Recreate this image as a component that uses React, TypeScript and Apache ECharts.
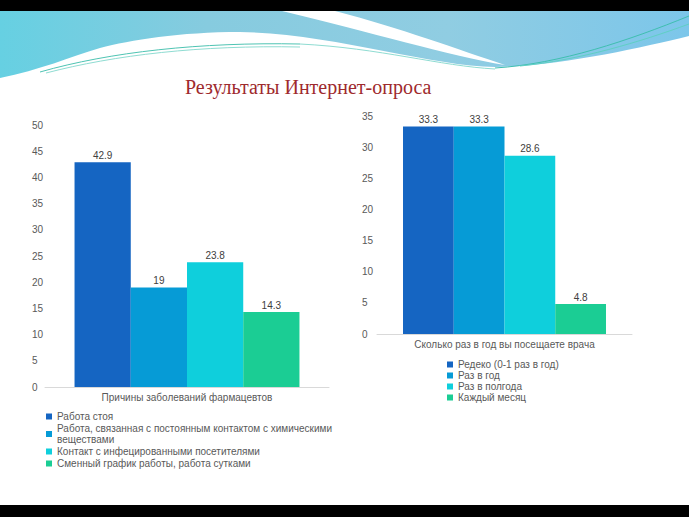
import React, { useEffect, useRef } from "react";
import * as echarts from "echarts";

const leftCategory = ["Причины заболеваний фармацевтов"];
const leftNames = [
  "Работа стоя",
  "Работа, связанная с постоянным контактом с химическими веществами",
  "Контакт с инфецированными посетителями",
  "Сменный график работы, работа сутками",
];
const leftValues = [42.9, 19, 23.8, 14.3];

const rightCategory = ["Сколько раз в год вы посещаете врача"];
const rightNames = ["Редеко (0-1 раз в год)", "Раз в год", "Раз в полгода", "Каждый месяц"];
const rightValues = [33.3, 33.3, 28.6, 4.8];

const colors = ["#1565c2", "#069bd6", "#0fcfdc", "#1bcd94"];

const FONT = "Liberation Sans, Arial, sans-serif";

echarts.graphic.registerShape(
  "waveBlue",
  echarts.graphic.extendPath(
    "M0,11 L689,11 L689,36 C640,48 560,66 495,67 C430,66 330,33 240,32 C180,32 130,40 100,48 C70,57 40,70 0,78 Z",
    {}
  )
);
echarts.graphic.registerShape(
  "waveStreak",
  echarts.graphic.extendPath(
    "M282,11 L335,11 C400,28 460,50 505,65 C450,56 370,32 282,11 Z",
    {}
  )
);

export default function App() {
  const ref = useRef<HTMLDivElement>(null);
  useEffect(() => {
    if (!ref.current) return;
    const chart = echarts.init(ref.current, null, { renderer: "svg" });
    const labelStyle = {
      show: true,
      position: "top",
      distance: 2,
      fontSize: 10,
      color: "#404040",
      fontFamily: FONT,
    };
    const series: any[] = [];
    leftNames.forEach((n, i) => {
      series.push({
        type: "bar",
        name: n,
        xAxisIndex: 0,
        yAxisIndex: 0,
        data: [leftValues[i]],
        barGap: "0%",
        barCategoryGap: "20.8%",
        itemStyle: { color: colors[i] },
        label: labelStyle,
      });
    });
    rightNames.forEach((n, i) => {
      series.push({
        type: "bar",
        name: n,
        xAxisIndex: 1,
        yAxisIndex: 1,
        data: [rightValues[i]],
        barGap: "0%",
        barCategoryGap: "20.4%",
        itemStyle: { color: colors[i] },
        label: labelStyle,
      });
    });
    const xAxisBase = {
      type: "category",
      axisLine: { lineStyle: { color: "#d9d9d9" } },
      axisTick: { show: false },
      axisLabel: { fontSize: 10, color: "#595959", margin: 5, fontFamily: FONT },
    };
    const yAxisBase = {
      type: "value",
      min: 0,
      interval: 5,
      axisLine: { show: false },
      axisTick: { show: false },
      splitLine: { show: false },
    };
    const legendBase = {
      orient: "vertical",
      icon: "rect",
      itemWidth: 6,
      itemHeight: 6,
      textStyle: { fontSize: 10, lineHeight: 11, color: "#595959", fontFamily: FONT },
    };
    chart.setOption({
      animation: false,
      backgroundColor: "#ffffff",
      title: {
        text: "Результаты Интернет-опроса",
        left: 180,
        top: 72,
        textStyle: {
          color: "#9e2a2d",
          fontSize: 20,
          fontWeight: "normal",
          fontFamily: "Liberation Serif, serif",
        },
      },
      graphic: [
        { type: "rect", shape: { x: 0, y: 0, width: 689, height: 11 }, style: { fill: "#000" }, silent: true },
        { type: "rect", shape: { x: 0, y: 505, width: 689, height: 12 }, style: { fill: "#000" }, silent: true },
        {
          type: "waveBlue",
          x: 0,
          y: 0,
          style: {
            fill: new echarts.graphic.LinearGradient(0, 0, 1, 0, [
              { offset: 0, color: "#66d0e2" },
              { offset: 0.3, color: "#86cbdf" },
              { offset: 0.65, color: "#90cde2" },
              { offset: 1, color: "#7cc6ea" },
            ]),
          },
          silent: true,
        },
        { type: "waveStreak", x: 0, y: 0, style: { fill: "#ffffff" }, silent: true },
        {
          type: "bezierCurve",
          shape: { x1: 40, y1: 72, x2: 300, y2: 44, cpx1: 110, cpy1: 52, cpx2: 200, cpy2: 42 },
          style: { stroke: "#4fc4b3", lineWidth: 1, fill: null },
          silent: true,
        },
        {
          type: "bezierCurve",
          shape: { x1: 46, y1: 73, x2: 300, y2: 47, cpx1: 115, cpy1: 55, cpx2: 200, cpy2: 45 },
          style: { stroke: "#8fdcd2", lineWidth: 1, fill: null },
          silent: true,
        },
        {
          type: "bezierCurve",
          shape: { x1: 300, y1: 44, x2: 495, y2: 69, cpx1: 380, cpy1: 48, cpx2: 440, cpy2: 66 },
          style: { stroke: "#8fdcd2", lineWidth: 1, fill: null },
          silent: true,
        },
        {
          type: "bezierCurve",
          shape: { x1: 495, y1: 68, x2: 689, y2: 16, cpx1: 560, cpy1: 64, cpx2: 630, cpy2: 40 },
          style: { stroke: "#3fbfb0", lineWidth: 1, fill: null },
          silent: true,
        },
        {
          type: "bezierCurve",
          shape: { x1: 520, y1: 66, x2: 689, y2: 24, cpx1: 580, cpy1: 60, cpx2: 640, cpy2: 42 },
          style: { stroke: "#5fd0c4", lineWidth: 1, fill: null },
          silent: true,
        },
      ],
      grid: [
        { left: 45, top: 125, width: 284, height: 262 },
        { left: 377, top: 116, width: 255, height: 218 },
      ],
      xAxis: [
        { ...xAxisBase, gridIndex: 0, data: leftCategory },
        { ...xAxisBase, gridIndex: 1, data: rightCategory },
      ],
      yAxis: [
        {
          ...yAxisBase,
          gridIndex: 0,
          max: 50,
          axisLabel: { align: "left", margin: 13, fontSize: 10, color: "#595959", fontFamily: FONT },
        },
        {
          ...yAxisBase,
          gridIndex: 1,
          max: 35,
          axisLabel: { align: "left", margin: 15, fontSize: 10, color: "#595959", fontFamily: FONT },
        },
      ],
      legend: [
        {
          ...legendBase,
          data: leftNames,
          left: 41,
          top: 406,
          itemGap: 1,
          formatter: (name: string) =>
            name === leftNames[1]
              ? "Работа, связанная с постоянным контактом с химическими\nвеществами"
              : name,
        },
        {
          ...legendBase,
          data: rightNames,
          left: 442,
          top: 354,
          itemGap: 0,
        },
      ],
      series,
    });
    return () => chart.dispose();
  }, []);
  return (
    <div
      ref={ref}
      style={{ position: "fixed", left: 0, top: 0, width: 689, height: 517 }}
    />
  );
}
